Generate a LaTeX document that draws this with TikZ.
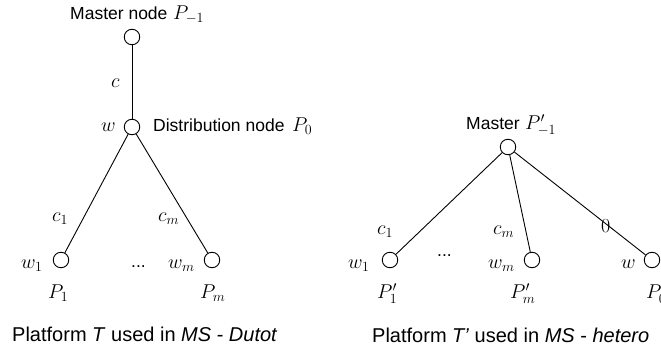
\RequirePackage{fix-cm}
\documentclass[tikz,border=0pt]{standalone}
\usepackage{fontspec}
\setsansfont{Liberation Sans}
\usepackage{tikz}

\begin{document}
\begin{tikzpicture}[
    x=1pt, y=-1pt,
    proc/.style={circle, draw, line width=0.9pt, minimum size=15.5pt, inner sep=0pt},
    link/.style={line width=0.9pt},
    lbl/.style={font=\fontsize{20}{22}\selectfont, inner sep=0pt, anchor=base west},
    txt/.style={font=\sffamily\fontsize{17.5}{20}\selectfont, inner sep=0pt, anchor=base west},
    caption/.style={font=\sffamily\fontsize{20}{22}\selectfont, inner sep=0pt, anchor=base west}
]
\useasboundingbox (0,0) rectangle (661,352);

% platform T (left)
\node[proc] (m) at (132,37) {};
\node[proc] (d) at (132,127) {};
\node[proc] (p1) at (61,260) {};
\node[proc] (pm) at (212,260) {};

\draw[link] (m) -- (d);
\draw[link] (d) -- (p1);
\draw[link] (d) -- (pm);

\node[txt] (mtxt) at (70,20) {Master node};
\node[lbl] (mp) at (173,20) {$P_{-1}$};
\node[lbl] (c) at (111,88) {$c$};
\node[lbl] (dw) at (101,132) {$w$};
\node[txt] (dtxt) at (153,132) {Distribution node};
\node[lbl] (dp) at (292,132) {$P_0$};

\node[lbl] (c1) at (52,222) {$c_1$};
\node[lbl] (cm) at (158,222) {$c_m$};
\node[lbl] (w1) at (21,269) {$w_1$};
\node[txt] (dots) at (131,268) {...};
\node[lbl] (wm) at (168,269) {$w_m$};
\node[lbl] (lp1) at (48,299) {$P_1$};
\node[lbl] (lpm) at (200,299) {$P_m$};

\node[caption] (capl) at (12,342) {Platform \textit{T} used in \textit{MS} - \textit{Dutot}};

% platform T' (right)
\node[proc] (m2) at (508,147) {};
\node[proc] (q1) at (390,260) {};
\node[proc] (qm) at (532,260) {};
\node[proc] (q0) at (652,260) {};

\draw[link] (m2) -- (q1);
\draw[link] (m2) -- (qm);
\draw[link] (m2) -- (q0);

\node[txt] (m2txt) at (466,130) {Master};
\node[lbl] (m2p) at (525,130) {$P'_{-1}$};

\node[lbl] (d1) at (377,235) {$c_1$};
\node[lbl] (dm) at (493,235) {$c_m$};
\node[lbl] (d0) at (601,233) {$0$};
\node[lbl] (v1) at (348,269) {$w_1$};
\node[txt] (dots2) at (437,257) {...};
\node[lbl] (vm) at (488,269) {$w_m$};
\node[lbl] (v0) at (621,269) {$w$};
\node[lbl] (lq1) at (377,299) {$P'_1$};
\node[lbl] (lqm) at (510,299) {$P'_m$};
\node[lbl] (lq0) at (646,299) {$P'_0$};

\node[caption] (capr) at (372,343) {Platform \textit{T'} used in \textit{MS} - \textit{hetero}};

\end{tikzpicture}
\end{document}
